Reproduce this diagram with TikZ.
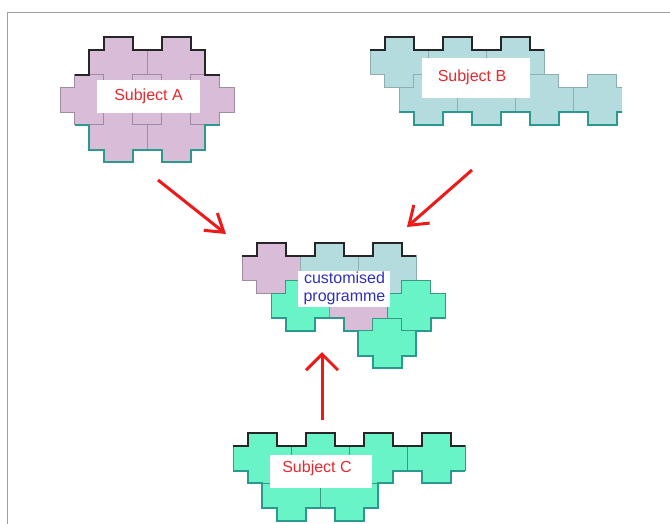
\documentclass[tikz,border=0pt]{standalone}
\usepackage{fontspec}
\setmainfont{Liberation Sans}
\usetikzlibrary{arrows.meta}
\definecolor{purpfill}{HTML}{D8BCD8}
\definecolor{purpline}{HTML}{A08CA0}
\definecolor{bluefill}{HTML}{B4DCDF}
\definecolor{blueline}{HTML}{8EAEB0}
\definecolor{aquafill}{HTML}{68F4C6}
\definecolor{aqualine}{HTML}{3A9A80}
\definecolor{tealedge}{HTML}{2A9A8E}
\definecolor{arrowred}{HTML}{EE1A1A}
\definecolor{labelred}{HTML}{E8282E}
\definecolor{labelblue}{HTML}{3030C0}
\definecolor{framegray}{HTML}{A0A0A0}
% tile: centre x, top y
\newcommand{\ptshape}[2]{(#1-14.5,#2) -- (#1+14.5,#2) -- (#1+14.5,#2+12.5) -- (#1+29,#2+12.5) -- (#1+29,#2+37.5) -- (#1+14.5,#2+37.5) -- (#1+14.5,#2+50) -- (#1-14.5,#2+50) -- (#1-14.5,#2+37.5) -- (#1-29,#2+37.5) -- (#1-29,#2+12.5) -- (#1-14.5,#2+12.5) -- cycle}
\newcommand{\ptile}[3]{\filldraw[#3] \ptshape{#1}{#2};}
\newcommand{\ptop}[2]{(#1-29,#2+12.5) -- (#1-14.5,#2+12.5) -- (#1-14.5,#2) -- (#1+14.5,#2) -- (#1+14.5,#2+12.5) -- (#1+29,#2+12.5)}
\newcommand{\pbot}[2]{(#1-29,#2+37.5) -- (#1-14.5,#2+37.5) -- (#1-14.5,#2+50) -- (#1+14.5,#2+50) -- (#1+14.5,#2+37.5) -- (#1+29,#2+37.5)}
\begin{document}
\begin{tikzpicture}[x=1pt,y=-1pt,
  purp/.style={fill=purpfill,draw=purpline,line width=0.9pt},
  blu/.style={fill=bluefill,draw=blueline,line width=0.9pt},
  aqua/.style={fill=aquafill,draw=aqualine,line width=0.9pt},
  topline/.style={draw=black!85,line width=2pt,line join=miter},
  botline/.style={draw=tealedge,line width=2pt,line join=miter},
  labelbox/.style={fill=white,draw=none,inner sep=0pt},
  lbl/.style={font=\fontsize{16}{19}\selectfont,text=labelred,inner sep=0pt},
  redarrow/.style={draw=arrowred,line width=3pt}]
\useasboundingbox (0,0) rectangle (670,523);
\fill[white] (0,0) rectangle (670,523);
\draw[framegray,line width=1.5pt] (7.5,530) -- (7.5,12.5) -- (680,12.5);

% ---------- Subject A ----------
\ptile{118}{37}{purp}\ptile{176}{37}{purp}
\ptile{89}{74.5}{purp}\ptile{147}{74.5}{purp}\ptile{205}{74.5}{purp}
\ptile{118}{112}{purp}\ptile{176}{112}{purp}
\draw[topline] (74.5,74.5) -- (89,74.5) -- \ptop{118}{37} -- \ptop{176}{37} -- (205,74.5) -- (219.5,74.5);
\draw[botline] (74.5,124.5) -- (89,124.5) -- \pbot{118}{112} -- \pbot{176}{112} -- (205,124.5) -- (219.5,124.5);
\node[labelbox,minimum width=103pt,minimum height=33pt] (boxA) at (148.5,96.5) {};
\node[lbl] (labA) at (148.5,96.5) {Subject A};

% ---------- Subject B ----------
\begin{scope}
\clip (360,30) rectangle (622,135);
\ptile{399}{37}{blu}\ptile{457}{37}{blu}\ptile{515}{37}{blu}
\ptile{428}{74.5}{blu}\ptile{486}{74.5}{blu}\ptile{544}{74.5}{blu}\ptile{602}{74.5}{blu}
\draw[topline] \ptop{399}{37} -- \ptop{457}{37} -- \ptop{515}{37};
\draw[botline] \pbot{428}{74.5} -- \pbot{486}{74.5} -- \pbot{544}{74.5} -- \pbot{602}{74.5};
\end{scope}
\node[labelbox,minimum width=108pt,minimum height=40pt] (boxB) at (476,78) {};
\node[lbl] (labB) at (472,77.5) {Subject B};

% ---------- customised programme ----------
\ptile{271}{243}{purp}\ptile{329}{243}{blu}\ptile{387}{243}{blu}
\ptile{300}{280.5}{aqua}\ptile{358}{280.5}{purp}\ptile{416}{280.5}{aqua}
\ptile{387}{318}{aqua}
\draw[topline] \ptop{271}{243} -- \ptop{329}{243} -- \ptop{387}{243};
\draw[botline] \pbot{300}{280.5} -- (343.5,318) -- (343.5,330.5) -- (358,330.5) -- \pbot{387}{318} -- (416,330.5) -- (430.5,330.5) -- (430.5,318) -- (445,318);
\node[labelbox,minimum width=92pt,minimum height=36pt] (boxP) at (344,288.5) {};
\node[font=\fontsize{16}{18.5}\selectfont,text=labelblue,inner sep=0pt,align=center] (labP) at (344.5,288.5) {customised\\programme};

% ---------- Subject C ----------
\ptile{262}{433}{aqua}\ptile{320}{433}{aqua}\ptile{378}{433}{aqua}\ptile{436}{433}{aqua}
\ptile{291}{470.5}{aqua}\ptile{349}{470.5}{aqua}
\draw[topline] \ptop{262}{433} -- \ptop{320}{433} -- \ptop{378}{433} -- \ptop{436}{433};
\draw[botline] (233,470.5) -- (247.5,470.5) -- (247.5,483) -- (262,483) -- \pbot{291}{470.5} -- \pbot{349}{470.5} -- (378,483) -- (392.5,483) -- (392.5,470.5) -- \pbot{436}{433};
\node[labelbox,minimum width=102pt,minimum height=33pt] (boxC) at (321,471.5) {};
\node[lbl] (labC) at (317,468.5) {Subject C};

% ---------- arrows ----------
\coordinate (aS) at (158,180); \coordinate (aE) at (226,234);
\coordinate (bS) at (472,170); \coordinate (bE) at (407,227);
\coordinate (cS) at (322,420); \coordinate (cE) at (322,352);
\draw[redarrow,-{Straight Barb[length=17pt,width=22pt,line width=3pt]}] (aS) -- (aE);
\draw[redarrow,-{Straight Barb[length=17pt,width=24pt,line width=3pt]}] (bS) -- (bE);
\draw[redarrow,-{Straight Barb[length=16pt,width=32pt,line width=3pt]}] (cS) -- (cE);
\end{tikzpicture}
\end{document}
